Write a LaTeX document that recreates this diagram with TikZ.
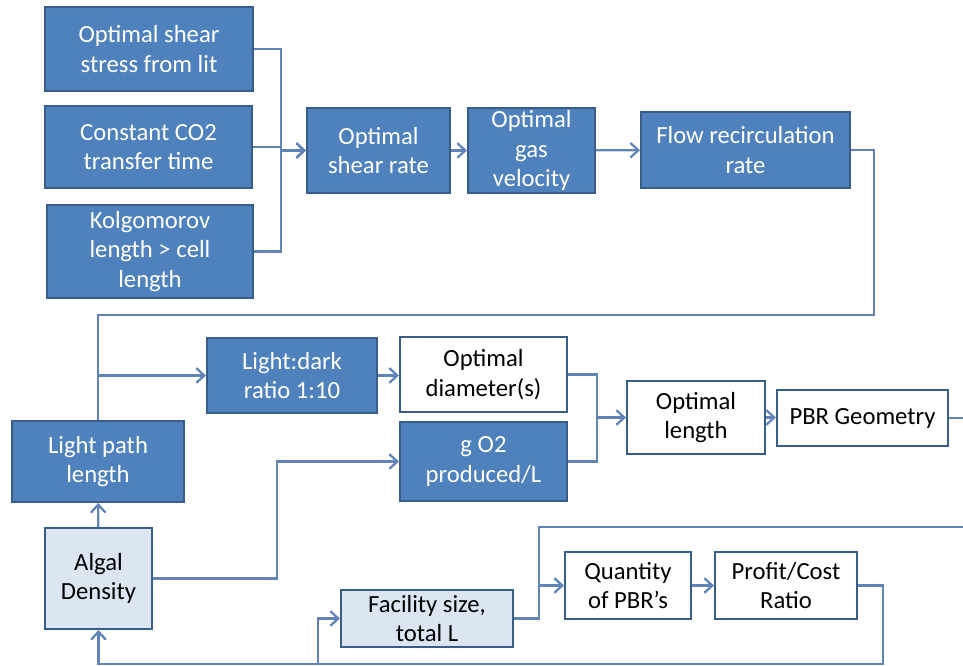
\documentclass[tikz,border=0pt]{standalone}
\usepackage{fontspec}
\setmainfont{Carlito}
\usetikzlibrary{arrows.meta}

\definecolor{boxblue}{RGB}{79,129,189}
\definecolor{boxedge}{RGB}{56,93,138}
\definecolor{boxpale}{RGB}{220,230,242}
\definecolor{linkblue}{RGB}{96,132,184}

\begin{document}
\begin{tikzpicture}[x=0.75pt, y=-0.75pt, font=\fontsize{18.5}{22}\selectfont]
        \tikzset{
            box/.style={draw=boxedge, line width=1.5pt, inner sep=0pt, align=center},
            darkbox/.style={box, fill=boxblue, text=white},
            palebox/.style={box, fill=boxpale},
            plainbox/.style={box, fill=white},
            link/.style={draw=linkblue, line width=1.7pt},
            linkarrow/.style={link, -{Straight Barb[length=6pt, width=11pt]}}
        }
        \useasboundingbox (0,0) rectangle (963,666);

        % top block: shear inputs
        \node[darkbox, minimum width=156pt, minimum height=63pt] (stress) at (149,49) {Optimal shear\\stress from lit};
        \node[darkbox, minimum width=155.25pt, minimum height=61.5pt] (co2) at (148.5,147) {Constant CO2\\transfer time};
        \node[darkbox, minimum width=154.5pt, minimum height=69.75pt] (kolg) at (150,251.5) {Kolgomorov\\length > cell\\length};
        \node[darkbox, minimum width=107.25pt, minimum height=63.75pt] (shear) at (378.5,150.5) {Optimal\\shear rate};
        \node[darkbox, minimum width=95.25pt, minimum height=63.75pt] (gasvel) at (531.5,150.5) {Optimal\\gas\\velocity};
        \node[darkbox, minimum width=156.75pt, minimum height=57pt] (recirc) at (745.5,150) {Flow recirculation\\rate};

        % middle block: geometry
        \node[darkbox, minimum width=129pt, minimum height=60.75pt] (lightpath) at (98,461.5) {Light path\\length};
        \node[darkbox, minimum width=127.5pt, minimum height=56.25pt] (lightdark) at (292,375.5) {Light:dark\\ratio 1:10};
        \node[plainbox, minimum width=125.25pt, minimum height=56.25pt] (diam) at (483.5,374.5) {Optimal\\diameter(s)};
        \node[darkbox, minimum width=125.25pt, minimum height=59.25pt] (oxygen) at (483.5,461.5) {g O2\\produced/L};
        \node[plainbox, minimum width=103.5pt, minimum height=54.75pt] (optlen) at (696,417.5) {Optimal\\length};
        \node[plainbox, minimum width=128.25pt, minimum height=42pt] (geom) at (862.5,418) {PBR Geometry};

        % bottom block: facility
        \node[palebox, minimum width=80.25pt, minimum height=75.75pt] (algal) at (98.5,578.5) {Algal\\Density};
        \node[palebox, minimum width=129pt, minimum height=42.75pt] (facility) at (427,618.5) {Facility size,\\total L};
        \node[plainbox, minimum width=94.5pt, minimum height=50.25pt] (quantity) at (628,585.5) {Quantity\\of PBR’s};
        \node[plainbox, minimum width=106.5pt, minimum height=50.25pt] (profit) at (786,585.5) {Profit/Cost\\Ratio};

        \coordinate (shearbus) at (281,150.5);
        \coordinate (loopright) at (874,315);
        \coordinate (loopleft) at (98,315);
        \coordinate (diambus) at (597,417.5);
        \coordinate (geomout) at (963,418);
        \coordinate (bottomright) at (883,664);
        \coordinate (bottombranch) at (318,664);
        \coordinate (facbus) at (539,527);
        \coordinate (facout) at (963,527);

        \draw[linkarrow] (stress.east) -| (shearbus) -- (shear.west);
        \draw[link] (co2.east) -- (co2.east -| shearbus);
        \draw[linkarrow] (kolg.east) -| (shearbus) -- (shear.west);
        \draw[linkarrow] (shear) -- (gasvel);
        \draw[linkarrow] (gasvel) -- (recirc);

        \draw[link] (recirc.east) -| (loopright) -- (loopleft) -- (lightpath.north);
        \draw[linkarrow] (lightdark.west -| lightpath.north) -- (lightdark.west);
        \draw[linkarrow] (lightdark.east) -- (lightdark.east -| diam.west);
        \draw[linkarrow] (algal) -- (lightpath);
        \draw[linkarrow] (algal.east) -- ++(124,0) |- (oxygen.west);
        \draw[link] (diam.east) -| (diambus);
        \draw[link] (oxygen.east) -| (diambus);
        \draw[linkarrow] (diambus) -- (optlen.west);
        \draw[linkarrow] (optlen.east) -- (optlen.east -| geom.west);
        \draw[link] (geom.east) -- (geomout);

        \draw[linkarrow] (profit.east) -| (bottomright) -| (algal.south);
        \draw[linkarrow] (bottombranch) |- (facility.west);
        \draw[link] (facility.east) -| (facbus) -- (facout);
        \draw[linkarrow] (quantity.west -| facbus) -- (quantity.west);
        \draw[linkarrow] (quantity) -- (profit);
    \end{tikzpicture}
\end{document}
